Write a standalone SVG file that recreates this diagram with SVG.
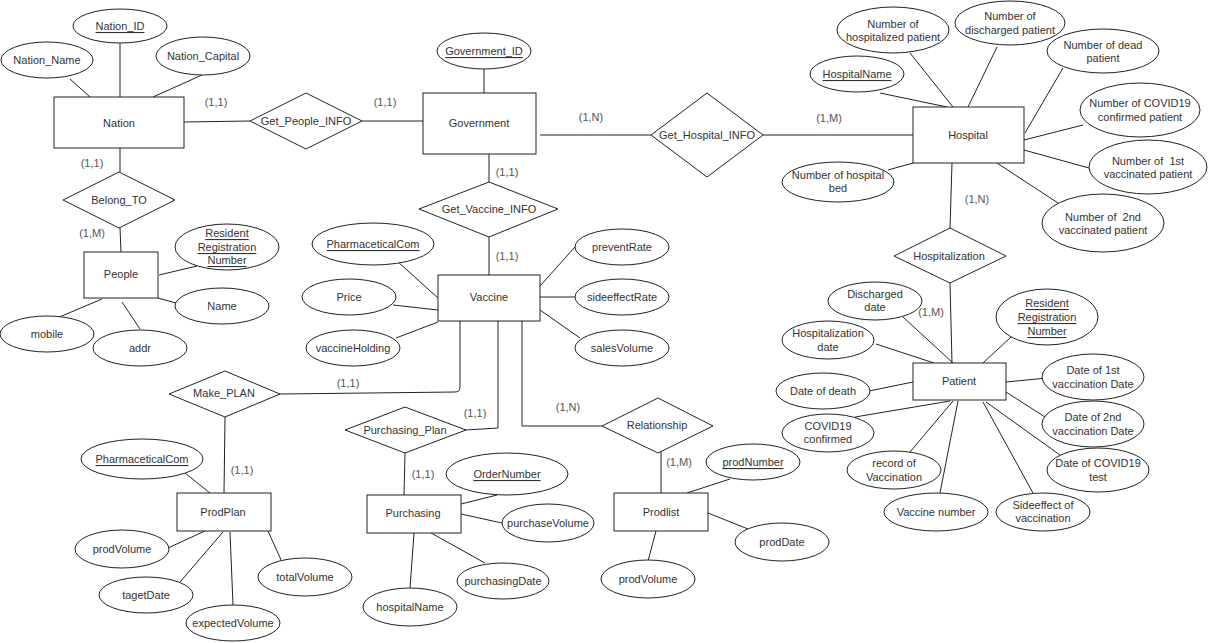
<svg xmlns="http://www.w3.org/2000/svg" width="1211" height="643" viewBox="0 0 1211 643">
<style>
.e,.r,.d{fill:#fff;stroke:#222;stroke-width:1}
text{font-family:"Liberation Sans",Arial,sans-serif;font-size:11px;fill:#333;text-anchor:middle;dominant-baseline:central}
.c{fill:#555}
.u{text-decoration:underline}
#connectors path,#connectors line{fill:none;stroke:#222;stroke-width:1}
</style>
<rect width="1211" height="643" fill="#fff"/>
<g id="connectors">
<line x1="70" y1="79" x2="90" y2="97"/>
<line x1="120" y1="43" x2="120" y2="97"/>
<line x1="202" y1="75" x2="153" y2="97"/>
<line x1="184" y1="122" x2="250" y2="121"/>
<line x1="362" y1="121" x2="423" y2="121"/>
<line x1="484" y1="69" x2="484" y2="96"/>
<line x1="540" y1="135" x2="651" y2="135"/>
<line x1="763" y1="135" x2="913" y2="135"/>
<line x1="489" y1="154" x2="489" y2="182"/>
<line x1="489" y1="237" x2="489" y2="275"/>
<line x1="397" y1="261" x2="438" y2="298"/>
<line x1="393" y1="305" x2="438" y2="310"/>
<line x1="396" y1="338" x2="438" y2="322"/>
<line x1="540" y1="286" x2="575" y2="247"/>
<line x1="540" y1="297" x2="575" y2="297"/>
<line x1="540" y1="310" x2="580" y2="338"/>
<path d="M460 321 V387 Q460 392 455 392 L280 394"/>
<path d="M498 321 V428 L466 430"/>
<path d="M522 321 V426 H602"/>
<line x1="225" y1="417" x2="224" y2="493"/>
<line x1="185" y1="473" x2="210" y2="493"/>
<line x1="168" y1="548" x2="207" y2="530"/>
<line x1="180" y1="582" x2="223" y2="532"/>
<line x1="230" y1="532" x2="233" y2="605"/>
<line x1="268" y1="531" x2="282" y2="562"/>
<line x1="405" y1="453" x2="404" y2="495"/>
<line x1="461" y1="504" x2="497" y2="495"/>
<line x1="461" y1="514" x2="502" y2="523"/>
<line x1="431" y1="533" x2="485" y2="563"/>
<line x1="414" y1="533" x2="410" y2="588"/>
<line x1="661" y1="451" x2="661" y2="493"/>
<line x1="687" y1="493" x2="730" y2="479"/>
<line x1="708" y1="513" x2="748" y2="529"/>
<line x1="656" y1="531" x2="648" y2="561"/>
<line x1="120" y1="148" x2="120" y2="172"/>
<line x1="120" y1="228" x2="121" y2="252"/>
<line x1="159" y1="275" x2="197" y2="266"/>
<line x1="158" y1="298" x2="176" y2="303"/>
<line x1="102" y1="299" x2="57" y2="318"/>
<line x1="122" y1="302" x2="140" y2="329"/>
<line x1="880" y1="93" x2="947" y2="107"/>
<line x1="910" y1="53" x2="953" y2="107"/>
<line x1="997" y1="47" x2="968" y2="107"/>
<line x1="1063" y1="68" x2="1025" y2="133"/>
<line x1="1083" y1="125" x2="1024" y2="140"/>
<line x1="1024" y1="150" x2="1089" y2="168"/>
<line x1="997" y1="163" x2="1058" y2="203"/>
<line x1="888" y1="170" x2="913" y2="163"/>
<line x1="952" y1="163" x2="950" y2="228"/>
<line x1="950" y1="283" x2="952" y2="363"/>
<line x1="903" y1="317" x2="953" y2="363"/>
<line x1="876" y1="344" x2="934" y2="363"/>
<line x1="869" y1="391" x2="913" y2="382"/>
<line x1="855" y1="417" x2="950" y2="401"/>
<line x1="910" y1="452" x2="953" y2="401"/>
<line x1="940" y1="493" x2="958" y2="401"/>
<line x1="1033" y1="493" x2="983" y2="402"/>
<line x1="1060" y1="455" x2="986" y2="402"/>
<line x1="1006" y1="392" x2="1045" y2="417"/>
<line x1="1006" y1="382" x2="1047" y2="378"/>
<line x1="983" y1="363" x2="1011" y2="337"/>
</g>
<g id="labels">
<text class="c" x="216" y="102">(1,1)</text>
<text class="c" x="385" y="102">(1,1)</text>
<text class="c" x="591" y="117">(1,N)</text>
<text class="c" x="829" y="118">(1,M)</text>
<text class="c" x="507" y="172">(1,1)</text>
<text class="c" x="507" y="256">(1,1)</text>
<text class="c" x="348" y="383">(1,1)</text>
<text class="c" x="242" y="470">(1,1)</text>
<text class="c" x="475" y="413">(1,1)</text>
<text class="c" x="423" y="474">(1,1)</text>
<text class="c" x="568" y="407">(1,N)</text>
<text class="c" x="679" y="462">(1,M)</text>
<text class="c" x="92" y="163">(1,1)</text>
<text class="c" x="92" y="233">(1,M)</text>
<text class="c" x="977" y="199">(1,N)</text>
<text class="c" x="931" y="312">(1,M)</text>
</g>
<g id="nation"><rect class="r" x="54" y="97" width="130" height="51"/><text x="119" y="123">Nation</text></g>
<g id="nation-id"><ellipse class="e" cx="120" cy="26" rx="47" ry="17"/><text class="u" x="120" y="26">Nation_ID</text></g>
<g id="nation-name"><ellipse class="e" cx="47" cy="60" rx="46" ry="18"/><text x="47" y="60">Nation_Name</text></g>
<g id="nation-capital"><ellipse class="e" cx="203" cy="56" rx="47" ry="19"/><text x="203" y="56">Nation_Capital</text></g>
<g id="get-people-info"><polygon class="d" points="250,121 306,93 362,121 306,149"/><text x="306" y="121">Get_People_INFO</text></g>
<g id="government"><rect class="r" x="423" y="93" width="113" height="61"/><text x="479" y="123">Government</text></g>
<g id="government-id"><ellipse class="e" cx="484" cy="51" rx="47" ry="18"/><text class="u" x="484" y="51">Government_ID</text></g>
<g id="get-hospital-info"><polygon class="d" points="651,135 707,93 763,135 707,177"/><text x="707" y="135">Get_Hospital_INFO</text></g>
<g id="hospital"><rect class="r" x="913" y="107" width="111" height="56"/><text x="968" y="135">Hospital</text></g>
<g id="get-vaccine-info"><polygon class="d" points="419,209 489,182 558,209 489,237"/><text x="489" y="209">Get_Vaccine_INFO</text></g>
<g id="vaccine"><rect class="r" x="438" y="275" width="102" height="46"/><text x="489" y="297">Vaccine</text></g>
<g id="vaccine-pharm"><ellipse class="e" cx="373" cy="244" rx="61" ry="21"/><text class="u" x="373" y="244">PharmaceticalCom</text></g>
<g id="price"><ellipse class="e" cx="349" cy="297" rx="47" ry="18"/><text x="349" y="297">Price</text></g>
<g id="vaccine-holding"><ellipse class="e" cx="353" cy="348" rx="47" ry="18"/><text x="353" y="348">vaccineHolding</text></g>
<g id="prevent-rate"><ellipse class="e" cx="622" cy="247" rx="47" ry="18"/><text x="622" y="247">preventRate</text></g>
<g id="sideeffect-rate"><ellipse class="e" cx="622" cy="297" rx="47" ry="18"/><text x="622" y="297">sideeffectRate</text></g>
<g id="sales-volume"><ellipse class="e" cx="622" cy="348" rx="47" ry="18"/><text x="622" y="348">salesVolume</text></g>
<g id="make-plan"><polygon class="d" points="169,394 225,371 280,394 225,417"/><text x="224" y="393">Make_PLAN</text></g>
<g id="prodplan"><rect class="r" x="177" y="493" width="94" height="38"/><text x="223" y="512">ProdPlan</text></g>
<g id="prodplan-pharm"><ellipse class="e" cx="142" cy="459" rx="61" ry="20"/><text class="u" x="142" y="459">PharmaceticalCom</text></g>
<g id="prodplan-prodvolume"><ellipse class="e" cx="122" cy="549" rx="47" ry="19"/><text x="122" y="549">prodVolume</text></g>
<g id="taget-date"><ellipse class="e" cx="146" cy="595" rx="47" ry="18"/><text x="146" y="595">tagetDate</text></g>
<g id="expected-volume"><ellipse class="e" cx="233" cy="623" rx="47" ry="18"/><text x="233" y="623">expectedVolume</text></g>
<g id="total-volume"><ellipse class="e" cx="305" cy="577" rx="47" ry="19"/><text x="305" y="577">totalVolume</text></g>
<g id="purchasing-plan"><polygon class="d" points="345,430 405,407 466,430 405,453"/><text x="405" y="430">Purchasing_Plan</text></g>
<g id="purchasing"><rect class="r" x="367" y="495" width="94" height="38"/><text x="413" y="513">Purchasing</text></g>
<g id="order-number"><ellipse class="e" cx="507" cy="474" rx="61" ry="21"/><text class="u" x="507" y="474">OrderNumber</text></g>
<g id="purchase-volume"><ellipse class="e" cx="548" cy="523" rx="46" ry="19"/><text x="548" y="523">purchaseVolume</text></g>
<g id="purchasing-date"><ellipse class="e" cx="503" cy="581" rx="46" ry="18"/><text x="503" y="581">purchasingDate</text></g>
<g id="hospital-name-attr"><ellipse class="e" cx="410" cy="607" rx="47" ry="19"/><text x="410" y="607">hospitalName</text></g>
<g id="relationship"><polygon class="d" points="602,426 658,398 713,426 658,453"/><text x="657" y="425">Relationship</text></g>
<g id="prodlist"><rect class="r" x="614" y="493" width="94" height="38"/><text x="661" y="512">Prodlist</text></g>
<g id="prod-number"><ellipse class="e" cx="753" cy="462" rx="47" ry="18"/><text class="u" x="753" y="462">prodNumber</text></g>
<g id="prod-date"><ellipse class="e" cx="782" cy="542" rx="47" ry="19"/><text x="782" y="542">prodDate</text></g>
<g id="prodlist-prodvolume"><ellipse class="e" cx="648" cy="579" rx="47" ry="19"/><text x="648" y="579">prodVolume</text></g>
<g id="belong-to"><polygon class="d" points="63,200 119,172 175,200 119,228"/><text x="119" y="200">Belong_TO</text></g>
<g id="people"><rect class="r" x="84" y="252" width="74" height="46"/><text x="121" y="274">People</text></g>
<g id="people-rrn"><ellipse class="e" cx="227" cy="247" rx="52" ry="23"/><text class="u" x="227" y="233">Resident</text><text class="u" x="227" y="247">Registration</text><text class="u" x="227" y="260">Number</text></g>
<g id="people-name"><ellipse class="e" cx="222" cy="306" rx="47" ry="18"/><text x="222" y="306">Name</text></g>
<g id="mobile"><ellipse class="e" cx="47" cy="334" rx="47" ry="18"/><text x="47" y="334">mobile</text></g>
<g id="addr"><ellipse class="e" cx="140" cy="348" rx="47" ry="18"/><text x="140" y="348">addr</text></g>
<g id="hospital-name"><ellipse class="e" cx="857" cy="74" rx="47" ry="18"/><text class="u" x="857" y="74">HospitalName</text></g>
<g id="num-hospitalized"><ellipse class="e" cx="893" cy="30" rx="56" ry="23"/><text x="893" y="24">Number of</text><text x="893" y="37">hospitalized patient</text></g>
<g id="num-discharged"><ellipse class="e" cx="1010" cy="23" rx="55" ry="22"/><text x="1010" y="16">Number of</text><text x="1010" y="30">discharged patient</text></g>
<g id="num-dead"><ellipse class="e" cx="1103" cy="51" rx="56" ry="22"/><text x="1103" y="45">Number of dead</text><text x="1103" y="58">patient</text></g>
<g id="num-covid"><ellipse class="e" cx="1140" cy="110" rx="60" ry="27"/><text x="1140" y="103">Number of COVID19</text><text x="1140" y="117">confirmed patient</text></g>
<g id="num-1st"><ellipse class="e" cx="1148" cy="167" rx="59" ry="27"/><text x="1148" y="161" xml:space="preserve">Number of  1st</text><text x="1148" y="174">vaccinated patient</text></g>
<g id="num-2nd"><ellipse class="e" cx="1103" cy="223" rx="61" ry="29"/><text x="1103" y="217" xml:space="preserve">Number of  2nd</text><text x="1103" y="230">vaccinated patient</text></g>
<g id="num-bed"><ellipse class="e" cx="838" cy="182" rx="56" ry="20"/><text x="838" y="175">Number of hospital</text><text x="838" y="188">bed</text></g>
<g id="hospitalization"><polygon class="d" points="894,256 950,228 1006,256 950,283"/><text x="949" y="256">Hospitalization</text></g>
<g id="patient"><rect class="r" x="913" y="363" width="93" height="37"/><text x="959" y="381">Patient</text></g>
<g id="discharged-date"><ellipse class="e" cx="875" cy="301" rx="47" ry="19"/><text x="875" y="294">Discharged</text><text x="875" y="307">date</text></g>
<g id="hospitalization-date"><ellipse class="e" cx="828" cy="340" rx="46" ry="19"/><text x="828" y="333">Hospitalization</text><text x="828" y="347">date</text></g>
<g id="date-death"><ellipse class="e" cx="823" cy="391" rx="47" ry="18"/><text x="823" y="391">Date of death</text></g>
<g id="covid-confirmed"><ellipse class="e" cx="828" cy="433" rx="46" ry="19"/><text x="828" y="426">COVID19</text><text x="828" y="439">confirmed</text></g>
<g id="record-vaccination"><ellipse class="e" cx="894" cy="470" rx="47" ry="19"/><text x="894" y="463">record of</text><text x="894" y="477">Vaccination</text></g>
<g id="vaccine-number"><ellipse class="e" cx="936" cy="512" rx="52" ry="19"/><text x="936" y="512">Vaccine number</text></g>
<g id="sideeffect-vaccination"><ellipse class="e" cx="1043" cy="512" rx="47" ry="19"/><text x="1043" y="505">Sideeffect of</text><text x="1043" y="518">vaccination</text></g>
<g id="date-covid-test"><ellipse class="e" cx="1098" cy="470" rx="51" ry="22"/><text x="1098" y="463">Date of COVID19</text><text x="1098" y="477">test</text></g>
<g id="date-2nd"><ellipse class="e" cx="1093" cy="424" rx="51" ry="23"/><text x="1093" y="417">Date of 2nd</text><text x="1093" y="431">vaccination Date</text></g>
<g id="date-1st"><ellipse class="e" cx="1093" cy="377" rx="51" ry="23"/><text x="1093" y="370">Date of 1st</text><text x="1093" y="384">vaccination Date</text></g>
<g id="patient-rrn"><ellipse class="e" cx="1047" cy="317" rx="51" ry="28"/><text class="u" x="1047" y="303">Resident</text><text class="u" x="1047" y="317">Registration</text><text class="u" x="1047" y="331">Number</text></g>
</svg>
